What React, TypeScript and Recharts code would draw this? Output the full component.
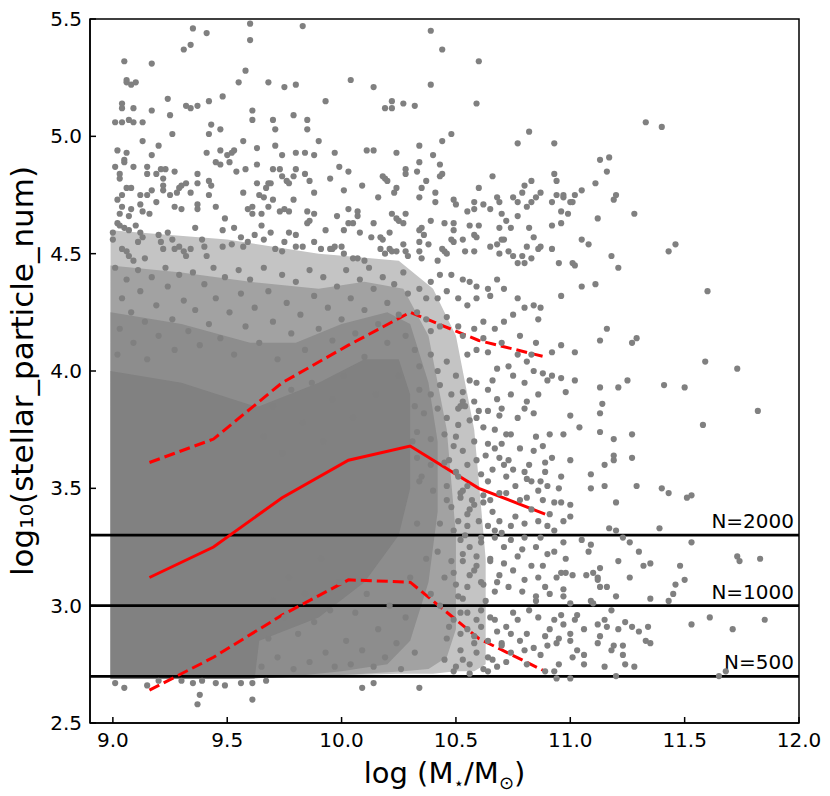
import {
  ComposedChart,
  XAxis,
  YAxis,
  Scatter,
  Line,
  Area,
  ReferenceLine,
  ReferenceArea,
} from "recharts";

const FONT = '"DejaVu Sans", sans-serif';
const GREY = "#808080";

const X_TICKS = [9.0, 9.5, 10.0, 10.5, 11.0, 11.5, 12.0];
const Y_TICKS = [2.5, 3.0, 3.5, 4.0, 4.5, 5.0, 5.5];

// binned statistics (red curves)
const binCenters = [9.16, 9.44, 9.74, 10.03, 10.3, 10.6, 10.89];
const medianVals = [3.12, 3.25, 3.46, 3.62, 3.68, 3.5, 3.39];
const upperVals = [3.61, 3.71, 3.95, 4.11, 4.25, 4.13, 4.06];
const lowerVals = [2.64, 2.78, 2.96, 3.11, 3.1, 2.86, 2.72];

// particle number thresholds
const nLevels = [3.301, 3.0, 2.699];
const nLabels = ["N=2000", "N=1000", "N=500"];

// where the dots merge into a grey mass: [x, low, high]
const bandLight: [number, number, number][] = [
  [8.99, 2.687, 4.6], [9.5, 2.687, 4.56], [9.9, 2.7, 4.5], [10.25, 2.71, 4.47],
  [10.4, 2.71, 4.35], [10.5, 2.72, 4.15], [10.58, 2.72, 3.75], [10.63, 2.75, 3.2],
];
const bandMid: [number, number, number][] = [
  [8.99, 2.687, 4.45], [9.3, 2.687, 4.42], [9.6, 2.69, 4.38], [9.9, 2.7, 4.35],
  [10.1, 2.71, 4.38], [10.27, 2.72, 4.35], [10.38, 2.73, 4.15], [10.46, 2.78, 3.75], [10.5, 2.9, 3.3],
];
const bandDense: [number, number, number][] = [
  [8.99, 2.687, 4.25], [9.3, 2.687, 4.2], [9.6, 2.69, 4.12], [9.8, 2.7, 4.12],
  [10.0, 2.72, 4.2], [10.2, 2.75, 4.25], [10.3, 2.85, 4.2], [10.38, 3.1, 3.95], [10.42, 3.4, 3.7],
];
const bandCore: [number, number, number][] = [
  [8.99, 2.687, 4.0], [9.3, 2.687, 3.95], [9.62, 2.69, 3.85], [9.64, 2.85, 3.85],
  [9.9, 2.95, 3.95], [10.1, 3.1, 4.05], [10.25, 3.3, 4.05], [10.3, 3.5, 3.9],
];

const upperScatter: [number, number][] = [
  [9.35,5.46],[9.41,5.44],[9.6,5.48],[9.6,5.41],[9.83,5.47],[9.31,5.37],[9.34,5.39],[9.05,5.32],[9.17,5.31],[9.58,5.28],
  [9.06,5.24],[9.06,5.23],[9.08,5.22],[9.1,5.23],[9.55,5.23],[9.68,5.23],[9.75,5.21],[9.8,5.22],[9.93,5.15],[9.04,5.14],
  [9.04,5.12],[9.09,5.12],[9.24,5.16],[9.32,5.13],[9.34,5.12],[9.37,5.13],[9.42,5.15],[9.48,5.17],[9.61,5.11],[9.61,5.07],
  [9.17,5.11],[9.25,5.09],[9.01,5.06],[9.04,5.06],[9.07,5.07],[9.09,5.06],[9.13,5.06],[9.43,5.05],[9.42,5.01],[9.47,5.03],
  [9.7,5.07],[9.71,5.03],[9.79,5.09],[9.85,5.07],[9.85,5.03],[9.26,5.01],[9.13,4.98],[9.2,4.96],[9.57,4.98],[9.71,4.96],
  [9.9,4.98],[9.02,4.94],[9.06,4.93],[9.05,4.9],[9.05,4.89],[9.17,4.92],[9.41,4.93],[9.47,4.94],[9.5,4.92],[9.52,4.93],
  [9.53,4.94],[9.45,4.89],[9.47,4.88],[9.51,4.89],[9.63,4.95],[9.74,4.92],[9.8,4.93],[9.84,4.93],[9.88,4.92],[9.97,4.93],
  [9.01,4.87],[9.03,4.84],[9.03,4.82],[9.09,4.87],[9.15,4.87],[9.15,4.84],[9.19,4.84],[9.21,4.86],[9.23,4.86],[9.22,4.82],
  [9.27,4.85],[9.54,4.85],[9.58,4.86],[9.63,4.88],[9.7,4.86],[9.73,4.86],[9.74,4.83],[9.76,4.81],[9.77,4.8],[9.79,4.83],
  [9.8,4.86],[9.84,4.84],[9.86,4.81],[9.95,4.82],[9.32,4.8],[9.37,4.84],[9.37,4.8],[9.42,4.81],[9.43,4.79],[9.63,4.8],
  [9.67,4.78],[9.68,4.8],[9.69,4.8],[9.02,4.73],[9.04,4.75],[9.06,4.78],[9.08,4.78],[9.12,4.75],[9.15,4.75],[9.17,4.77],
  [9.19,4.72],[9.22,4.79],[9.22,4.77],[9.25,4.75],[9.28,4.76],[9.29,4.78],[9.3,4.79],[9.34,4.76],[9.42,4.75],[9.57,4.76],
  [9.64,4.75],[9.66,4.74],[9.7,4.73],[9.79,4.73],[9.88,4.76],[9.04,4.7],[9.08,4.69],[9.07,4.66],[9.03,4.67],[9.12,4.71],
  [9.13,4.68],[9.16,4.67],[9.27,4.7],[9.3,4.69],[9.37,4.71],[9.37,4.69],[9.45,4.7],[9.49,4.65],[9.59,4.69],[9.61,4.7],
  [9.61,4.67],[9.65,4.67],[9.68,4.7],[9.73,4.68],[9.75,4.69],[9.77,4.68],[9.85,4.68],[9.86,4.64],[9.88,4.67],[9.98,4.66],
  [9.0,4.59],[9.0,4.56],[9.02,4.63],[9.03,4.62],[9.05,4.61],[9.07,4.6],[9.1,4.62],[9.12,4.59],[9.13,4.57],[9.11,4.55],
  [9.04,4.52],[9.06,4.51],[9.07,4.49],[9.09,4.47],[9.14,4.48],[9.2,4.58],[9.21,4.55],[9.22,4.52],[9.24,4.59],[9.26,4.56],
  [9.27,4.52],[9.29,4.53],[9.31,4.51],[9.32,4.49],[9.34,4.52],[9.36,4.61],[9.39,4.56],[9.4,4.53],[9.41,4.49],[9.48,4.6],
  [9.48,4.53],[9.52,4.54],[9.53,4.61],[9.56,4.57],[9.57,4.53],[9.59,4.55],[9.62,4.58],[9.65,4.62],[9.66,4.56],[9.69,4.59],
  [9.71,4.52],[9.74,4.51],[9.75,4.55],[9.77,4.59],[9.8,4.58],[9.8,4.53],[9.83,4.53],[9.85,4.63],[9.88,4.55],[9.91,4.52],
  [9.93,4.6],[9.95,4.52],[9.97,4.53],
  [10.39,5.45],[10.44,5.37],[10.6,5.32],[10.04,5.24],[10.14,5.21],[10.39,5.22],[10.19,5.12],[10.22,5.12],[10.22,5.15],[10.27,5.14],
  [10.32,5.13],[10.59,5.14],[10.48,5.01],[10.44,4.98],[10.82,5.02],[10.77,4.97],[10.93,4.97],[10.11,4.94],[10.14,4.94],[10.24,4.93],
  [10.34,4.96],[10.4,4.92],[10.34,4.89],[10.33,4.85],[9.99,4.87],[10.03,4.85],[10.43,4.88],[10.44,4.84],[10.43,4.83],[10.28,4.86],
  [10.28,4.84],[10.18,4.83],[10.19,4.82],[10.2,4.81],[10.01,4.77],[10.09,4.79],[10.24,4.78],[10.23,4.76],[10.37,4.81],[10.35,4.78],
  [10.34,4.74],[10.41,4.76],[10.41,4.72],[10.16,4.74],[10.49,4.73],[10.5,4.71],[10.66,4.83],[10.6,4.78],[10.58,4.72],[10.62,4.71],
  [10.65,4.69],[10.68,4.74],[10.69,4.72],[10.75,4.74],[10.77,4.72],[10.8,4.79],[10.83,4.81],[10.79,4.76],[10.81,4.7],[10.83,4.72],
  [10.85,4.74],[10.87,4.76],[10.93,4.84],[10.94,4.81],[10.92,4.72],[10.97,4.75],[10.97,4.74],[11.0,4.72],[11.01,4.72],[11.02,4.75],
  [10.96,4.68],[10.99,4.67],[10.01,4.6],[10.03,4.69],[10.03,4.63],[10.05,4.63],[10.07,4.66],[10.07,4.68],[10.08,4.59],[10.14,4.63],
  [10.13,4.57],[10.22,4.67],[10.24,4.65],[10.25,4.64],[10.27,4.63],[10.28,4.67],[10.21,4.59],[10.17,4.57],[10.18,4.56],[10.35,4.61],
  [10.34,4.6],[10.36,4.58],[10.39,4.64],[10.45,4.63],[10.49,4.63],[10.49,4.6],[10.55,4.68],[10.58,4.69],[10.56,4.62],[10.6,4.62],
  [10.58,4.58],[10.59,4.57],[10.69,4.61],[10.71,4.56],[10.7,4.67],[10.72,4.64],[10.74,4.61],[10.77,4.66],[10.82,4.61],[10.87,4.53],
  [10.92,4.62],[10.96,4.63],[10.84,4.57],[10.81,4.53],[9.96,4.52],[10.0,4.53],[10.01,4.5],[10.05,4.48],[10.07,4.48],[10.1,4.47],
  [10.17,4.52],[10.19,4.5],[10.21,4.52],[10.22,4.51],[10.24,4.51],[10.27,4.54],[10.28,4.51],[10.29,4.49],[10.34,4.55],[10.38,4.54],
  [10.34,4.51],[10.35,4.48],[10.42,4.47],[10.44,4.52],[10.45,4.51],[10.46,4.5],[10.48,4.56],[10.49,4.55],[10.53,4.56],[10.54,4.51],
  [10.58,4.51],[10.65,4.53],[10.68,4.54],[10.69,4.5],[10.7,4.56],[10.73,4.51],[10.75,4.49],[10.77,4.46],[10.79,4.49],[10.8,4.46],
  [10.83,4.48],[10.86,4.52],[10.92,4.52],[10.95,4.46],[11.01,4.46],
];

const rightScatter: [number, number][] = [
  [11.33,5.06],[11.4,5.04],[11.13,4.9],[11.17,4.91],[11.16,4.85],[11.11,4.8],[11.05,4.77],[10.94,4.75],[11.2,4.75],[11.19,4.73],
  [11.12,4.65],[11.28,4.67],[11.05,4.56],[11.08,4.54],[11.46,4.54],[11.43,4.51],[11.18,4.49],[11.21,4.44],[11.02,4.45],[11.05,4.36],
  [11.11,4.37],[10.96,4.32],[11.6,4.34],[11.16,4.18],[11.13,4.13],[11.27,4.12],[11.29,4.14],[10.96,4.11],[10.92,4.08],[11.02,4.08],
  [11.59,4.04],[11.73,4.01],[10.92,3.98],[10.96,3.97],[11.02,3.96],[10.98,3.91],[11.13,3.93],[11.21,3.93],[11.25,3.96],[11.41,3.94],
  [11.5,3.93],[11.14,3.86],[11.13,3.82],[11.0,3.81],[11.04,3.76],[11.58,3.77],[11.82,3.83],
  [10.97,3.73],[11.13,3.74],[11.19,3.71],[11.27,3.73],[11.0,3.62],[11.15,3.6],[11.19,3.64],[11.19,3.62],[11.27,3.63],[10.96,3.55],
  [10.95,3.5],[11.09,3.56],[11.09,3.5],[11.15,3.51],[11.29,3.51],[11.4,3.5],[11.43,3.48],[11.51,3.46],[11.53,3.47],[10.93,3.44],
  [10.96,3.44],[11.0,3.43],[11.2,3.44],[10.97,3.36],[11.0,3.38],[10.93,3.32],[11.17,3.33],[11.2,3.32],[11.39,3.33],[11.05,3.28],
  [10.97,3.27],[11.09,3.26],[11.23,3.29],[11.26,3.27],[11.3,3.23],[11.53,3.27],[10.93,3.23],[11.08,3.23],[10.98,3.2],[11.21,3.19],
  [11.32,3.17],[11.35,3.18],[11.48,3.17],[11.73,3.21],[11.74,3.19],[11.83,3.2],[10.94,3.12],[10.96,3.14],[10.98,3.14],[11.01,3.13],
  [11.07,3.13],[11.1,3.14],[11.12,3.12],[11.13,3.16],[11.12,3.11],[11.26,3.12],[11.5,3.11],[11.46,3.09],[10.97,3.07],[10.97,3.04],
  [11.09,3.02],[11.13,3.08],[11.16,3.08],[11.2,3.04],[11.35,3.03],[11.43,3.02],[11.45,3.05],[11.0,3.01],[11.1,3.01],[10.93,2.94],
  [10.96,2.96],[10.97,2.92],[11.03,2.96],[11.02,2.94],[11.18,2.98],[11.15,2.94],[11.12,2.92],[11.16,2.91],[11.24,2.93],[11.27,2.91],
  [11.3,2.89],[11.34,2.91],[11.33,2.85],[11.35,2.84],[11.21,2.9],[11.13,2.87],[11.12,2.84],[11.06,2.9],[11.0,2.88],[11.0,2.85],
  [10.95,2.86],[10.94,2.84],[11.53,2.92],[11.61,2.95],[11.71,2.9],[11.85,2.94],[10.95,2.75],[10.93,2.72],[11.06,2.79],[11.06,2.75],
  [11.03,2.81],[11.01,2.78],[11.19,2.83],[11.18,2.81],[11.23,2.83],[11.23,2.79],[11.24,2.75],[11.28,2.74],[11.15,2.74],[10.94,2.69],
  [11.0,2.69],[11.2,2.7],[11.65,2.7],[11.68,2.72],
];

const midScatter: [number, number][] = [
  [10.53,3.87],[10.54,3.85],[10.6,3.83],[10.64,3.83],[10.69,3.81],[10.59,3.8],[10.77,3.8],[10.8,3.84],[10.81,3.87],[10.72,3.73],
  [10.74,3.73],[10.67,3.75],[10.62,3.76],[10.56,3.79],[10.51,3.84],[10.91,3.73],[10.84,3.66],[10.88,3.68],[10.89,3.61],[10.92,3.63],
  [10.89,3.57],[10.87,3.53],[10.83,3.53],[10.8,3.57],[10.75,3.58],[10.71,3.6],[10.69,3.63],[10.67,3.67],[10.64,3.69],[10.59,3.62],
  [10.64,3.53],[10.66,3.58],[10.72,3.55],[10.76,3.51],[10.81,3.54],[10.51,3.55],[10.53,3.49],[10.57,3.45],[10.62,3.47],[10.65,3.45],
  [10.69,3.48],[10.72,3.48],[10.78,3.45],[10.81,3.46],[10.86,3.49],[10.88,3.45],[10.91,3.39],[10.86,3.36],[10.8,3.35],[10.74,3.34],
  [10.69,3.36],[10.64,3.34],[10.6,3.36],[10.55,3.39],[10.51,3.36],[10.52,3.28],[10.56,3.25],[10.61,3.27],[10.67,3.29],[10.71,3.25],
  [10.74,3.28],[10.8,3.29],[10.85,3.25],[10.9,3.22],[10.53,3.19],[10.59,3.21],[10.65,3.19],[10.71,3.18],[10.77,3.21],[10.83,3.17],
  [10.88,3.17],[10.89,3.08],[10.85,3.04],[10.79,3.06],[10.73,3.08],[10.67,3.06],[10.61,3.1],[10.55,3.08],[10.51,3.04],[10.85,3.02],
  [10.52,2.97],[10.59,2.94],[10.65,2.95],[10.72,2.91],[10.77,2.94],[10.81,2.88],[10.86,2.95],[10.91,2.9],[10.52,2.88],[10.58,2.87],
  [10.64,2.85],[10.7,2.84],[10.74,2.88],[10.78,2.85],[10.84,2.82],[10.89,2.87],[10.89,2.72],[10.81,2.75],[10.74,2.8],[10.66,2.77],
  [10.59,2.8],[10.53,2.77],[10.49,2.72],[10.64,2.72],
  [10.47,3.62],[10.5,3.72],[10.55,3.6],[10.58,3.7],[10.61,3.56],[10.63,3.64],[10.7,3.69],[10.73,3.62],[10.78,3.67],[10.82,3.6],
  [10.85,3.72],[10.9,3.51],[10.48,3.42],[10.54,3.3],[10.58,3.43],[10.66,3.4],[10.7,3.31],[10.76,3.38],[10.79,3.24],[10.83,3.41],
  [10.87,3.29],[10.9,3.34],[10.49,3.14],[10.53,3.03],[10.58,3.15],[10.63,3.02],[10.69,3.13],[10.75,3.15],[10.8,3.11],[10.86,3.12],
  [10.91,3.05],[10.82,2.98],[10.47,2.91],[10.55,2.9],[10.61,2.98],[10.68,2.89],[10.75,2.97],[10.8,2.81],[10.87,2.79],[10.9,2.83],
  [10.72,2.76],[10.56,2.71],[10.7,4.12],[10.62,4.14],[10.78,4.15],[10.85,4.12],[10.75,3.98],[10.86,3.9],[10.66,3.96],[10.56,3.96],
  [10.7,3.84],[10.84,3.82],
  [10.68,4.39],[10.64,4.35],[10.59,4.36],[10.56,4.38],[10.53,4.39],[10.48,4.41],[10.43,4.41],[10.39,4.38],[10.34,4.35],[10.37,4.31],
  [10.42,4.31],[10.46,4.34],[10.51,4.31],[10.55,4.28],[10.59,4.31],[10.65,4.32],[10.71,4.35],[10.77,4.31],[10.8,4.27],[10.84,4.28],
  [10.87,4.27],[10.86,4.22],[10.75,4.24],[10.71,4.21],[10.67,4.18],[10.62,4.21],[10.58,4.18],[10.53,4.15],[10.51,4.19],[10.46,4.23],
  [10.43,4.19],[10.39,4.17],[10.37,4.22],[10.33,4.25],[10.55,4.07],[10.59,4.09],[10.64,4.08],[10.68,4.01],[10.73,4.02],[10.77,4.07],
  [10.81,4.04],[10.84,4.0],[10.88,3.99],[10.9,3.96],[10.83,4.07],[10.59,3.95],[10.64,3.92],[10.68,3.88],[10.74,3.9],[10.8,3.95],
  [10.53,3.91],[10.58,3.87],
  [10.32,4.09],[10.34,4.02],[10.39,4.07],[10.42,4.0],[10.46,4.04],[10.5,3.98],[10.34,3.92],[10.39,3.9],[10.43,3.94],[10.48,3.9],
  [10.52,3.85],[10.32,3.85],[10.36,3.82],[10.42,3.84],[10.46,3.8],[10.51,3.77],[10.33,3.74],[10.39,3.71],[10.45,3.73],[10.49,3.68],
  [10.53,3.66],[10.33,3.63],[10.39,3.6],[10.45,3.61],[10.5,3.57],[10.55,3.51],[10.34,3.53],[10.4,3.49],[10.46,3.51],[10.52,3.46],
  [10.46,3.45],[10.52,3.48],[10.56,3.41],[10.62,3.44],[10.43,3.35],[10.49,3.32],[10.55,3.34],[10.61,3.29],[10.67,3.32],
  [10.42,3.23],[10.48,3.19],[10.53,3.22],[10.59,3.17],[10.65,3.2],[10.45,3.12],[10.5,3.09],[10.56,3.13],[10.62,3.09],[10.68,3.1],
  [10.43,3.0],[10.49,2.94],[10.55,2.97],[10.61,2.91],[10.67,2.94],[10.46,2.86],[10.52,2.81],[10.58,2.84],[10.64,2.78],[10.7,2.83],
  [10.45,2.77],[10.5,2.74],[10.56,2.75],[10.62,2.73],[10.68,2.74],
];

// scattered dots on top of the grey mass
const fieldScatter: [number, number][] = [
  [9.01,4.44],[9.04,4.31],[9.03,4.18],[9.02,4.07],[9.06,4.39],[9.08,4.25],[9.09,4.12],[9.11,4.43],[9.12,4.34],[9.14,4.21],
  [9.15,4.05],[9.17,4.4],[9.19,4.28],[9.2,4.15],[9.23,4.44],[9.24,4.36],[9.26,4.22],[9.27,4.09],[9.29,4.41],[9.31,4.3],
  [9.33,4.17],[9.35,4.42],[9.36,4.26],[9.38,4.11],[9.4,4.37],[9.42,4.2],[9.44,4.44],[9.45,4.31],[9.47,4.14],[9.49,4.4],
  [9.51,4.25],[9.53,4.07],[9.55,4.43],[9.56,4.33],[9.58,4.19],[9.6,4.39],[9.62,4.27],[9.64,4.12],[9.66,4.44],[9.68,4.34],
  [9.7,4.21],[9.72,4.05],[9.74,4.41],[9.76,4.29],[9.78,4.16],[9.8,4.38],[9.82,4.24],[9.84,4.09],[9.86,4.43],[9.88,4.32],
  [9.9,4.18],[9.92,4.4],[9.94,4.27],[9.96,4.13],[9.98,4.36],[10.0,4.22],[10.02,4.43],[10.04,4.31],[10.06,4.16],[10.08,4.39],
  [10.1,4.26],[10.12,4.44],[10.14,4.35],[10.16,4.2],[10.18,4.4],[10.2,4.29],[10.23,4.37],[10.25,4.24],[10.27,4.42],[10.29,4.33],
  [9.65,2.74],[9.68,2.86],[9.7,3.02],[9.72,2.78],[9.75,2.95],[9.77,3.12],[9.79,2.73],[9.81,2.88],[9.84,3.05],[9.86,2.76],
  [9.88,2.93],[9.91,3.2],[9.93,2.8],[9.95,2.98],[9.97,2.74],[9.99,3.1],[10.02,2.85],[10.04,2.75],[10.06,2.97],[10.09,2.81],
  [10.11,3.05],[10.14,2.74],[10.16,2.9],[10.19,2.78],[10.21,3.0],[10.24,2.84],[10.26,2.73],[10.28,2.95],[10.3,3.12],[10.32,2.8],
  [9.66,3.72],[9.7,3.85],[9.74,3.65],[9.78,3.92],[9.83,3.78],[9.87,3.95],[9.92,3.7],[9.96,3.88],[10.01,3.98],[10.05,3.8],
  [10.1,4.06],[10.15,3.9],[10.2,4.12],[10.25,3.98],[10.28,4.15],[10.31,3.7],[10.33,3.35],[10.35,3.55],[10.37,3.2],[10.39,3.05],
];

const lowScatter: [number, number][] = [
  [9.01,2.67],[9.05,2.65],[9.15,2.66],[9.2,2.68],[9.3,2.68],[9.35,2.67],[9.39,2.68],[9.45,2.67],[9.49,2.66],[9.56,2.67],
  [9.61,2.67],[9.67,2.68],[9.38,2.62],[9.37,2.58],[9.61,2.6],[10.09,2.65],[10.14,2.67],[10.34,2.65],
];

const toPoints = (arr: [number, number][]) => arr.map(([x, y]) => ({ x, y }));
const toBand = (arr: [number, number, number][]) => arr.map(([x, lo, hi]) => ({ x, range: [lo, hi] }));
const toCurve = (vals: number[]) => binCenters.map((x, i) => ({ x, y: vals[i] }));

const allPoints = [
  ...toPoints(upperScatter),
  ...toPoints(rightScatter),
  ...toPoints(midScatter),
  ...toPoints(fieldScatter),
  ...toPoints(lowScatter),
];

const bands = [
  { data: toBand(bandLight), color: "#c4c4c4" },
  { data: toBand(bandMid), color: "#a2a2a2" },
  { data: toBand(bandDense), color: "#8d8d8d" },
  { data: toBand(bandCore), color: "#818181" },
];

const Dot = (p: any) => <circle cx={p.cx} cy={p.cy} r={3.1} fill={GREY} />;

function NLabel({ viewBox, text }: any) {
  return (
    <text x={viewBox.x + viewBox.width - 5} y={viewBox.y - 7} textAnchor="end" fontSize={20} fontFamily={FONT} fill="#000">
      {text}
    </text>
  );
}

function XTitle({ viewBox }: any) {
  return (
    <text x={viewBox.x + viewBox.width / 2} y={viewBox.y + 60} textAnchor="middle" fontSize={29} fontFamily={FONT} fill="#000">
      log (M<tspan dy={6} fontSize={17}>⋆</tspan>
      <tspan dy={-6}>/M</tspan>
      <tspan dy={6} fontSize={18}>⊙</tspan>
      <tspan dy={-6}>)</tspan>
    </text>
  );
}

function YTitle({ viewBox }: any) {
  const cx = viewBox.x + 3;
  const cy = viewBox.y + viewBox.height / 2;
  return (
    <g transform={`translate(${cx}, ${cy}) rotate(-90)`}>
      <text x={0} y={0} textAnchor="middle" fontSize={31} fontFamily={FONT} fill="#000">
        log₁₀(stellar_particle_num)
      </text>
    </g>
  );
}

const tickStyle = { fill: "#000", fontSize: 20, fontFamily: FONT };

export default function App() {
  return (
    <ComposedChart width={814} height={788} margin={{ top: 11, right: 23, bottom: 33, left: 22 }}>
      <XAxis
        type="number"
        dataKey="x"
        domain={[8.9, 12]}
        ticks={X_TICKS}
        interval={0}
        allowDataOverflow
        tickFormatter={(v: number) => v.toFixed(1)}
        tickSize={-6}
        tickMargin={16}
        tick={tickStyle}
        axisLine={{ stroke: "#000", strokeWidth: 1.5 }}
        tickLine={{ stroke: "#000", strokeWidth: 1.5 }}
        height={40}
        label={<XTitle />}
      />
      <YAxis
        type="number"
        dataKey="y"
        domain={[2.5, 5.5]}
        ticks={Y_TICKS}
        interval={0}
        allowDataOverflow
        tickFormatter={(v: number) => v.toFixed(1)}
        tickSize={-6}
        tickMargin={14}
        tick={tickStyle}
        axisLine={{ stroke: "#000", strokeWidth: 1.5 }}
        tickLine={{ stroke: "#000", strokeWidth: 1.5 }}
        width={60}
        label={<YTitle />}
      />
      {bands.map((b, i) => (
        <Area
          key={i}
          data={b.data}
          dataKey="range"
          type="linear"
          stroke="none"
          fill={b.color}
          fillOpacity={1}
          dot={false}
          activeDot={false}
          isAnimationActive={false}
        />
      ))}
      <Scatter data={allPoints} shape={Dot} isAnimationActive={false} />
      {nLevels.map((lv, i) => (
        <ReferenceLine key={lv} y={lv} stroke="#000" strokeWidth={2.8} label={<NLabel text={nLabels[i]} />} />
      ))}
      <Line data={toCurve(upperVals)} dataKey="y" type="linear" stroke="#ff0000" strokeWidth={3} strokeDasharray="11 5" dot={false} isAnimationActive={false} />
      <Line data={toCurve(medianVals)} dataKey="y" type="linear" stroke="#ff0000" strokeWidth={3} dot={false} isAnimationActive={false} />
      <Line data={toCurve(lowerVals)} dataKey="y" type="linear" stroke="#ff0000" strokeWidth={3} strokeDasharray="11 5" dot={false} isAnimationActive={false} />
      <ReferenceArea x1={8.9} x2={12} y1={2.5} y2={5.5} fill="none" fillOpacity={0} stroke="#000" strokeWidth={1.5} />
    </ComposedChart>
  );
}
